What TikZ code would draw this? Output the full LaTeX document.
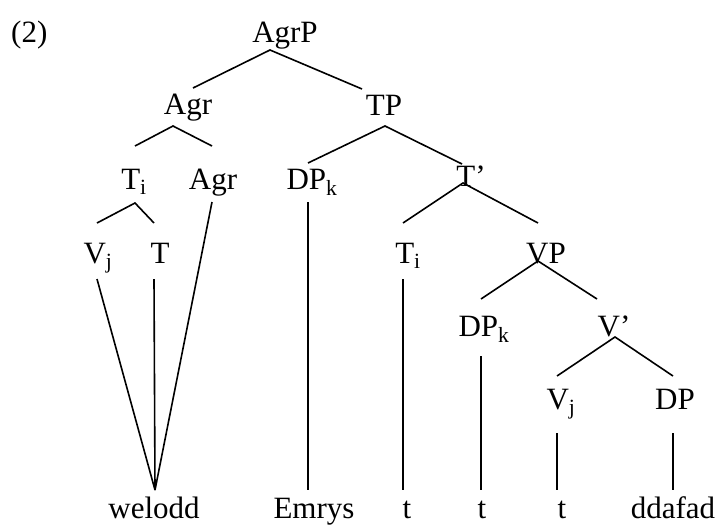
\documentclass[tikz,border=0pt]{standalone}
\usepackage{fontspec}
\setmainfont{Liberation Serif}
\begin{document}
\begin{tikzpicture}[x=1pt,y=-1pt,
  lab/.style={anchor=base,inner sep=0pt,font=\fontsize{31}{32}\selectfont},
  br/.style={line width=1.6pt}]
\useasboundingbox (0,0) rectangle (720,525);
% labels
\node[lab,anchor=base west] (ex) at (11,42) {(2)};
\node[lab] (agrp) at (285,42) {AgrP};
\node[lab] (agr1) at (188,114) {Agr};
\node[lab] (tp) at (384,115) {TP};
\node[lab] (ti1) at (134,189) {T\textsubscript{i}};
\node[lab] (agr2) at (213,189) {Agr};
\node[lab] (dpk1) at (312,189) {DP\textsubscript{k}};
\node[lab] (tbar) at (471,186) {T’};
\node[lab] (vj1) at (98,263) {V\textsubscript{j}};
\node[lab] (t1) at (160,263) {T};
\node[lab] (ti2) at (408,263) {T\textsubscript{i}};
\node[lab] (vp) at (546,263) {VP};
\node[lab] (dpk2) at (484,336) {DP\textsubscript{k}};
\node[lab] (vbar) at (614,336) {V’};
\node[lab] (vj2) at (561,409) {V\textsubscript{j}};
\node[lab] (dp) at (675,409) {DP};
\node[lab] (welodd) at (154,518) {welodd};
\node[lab] (emrys) at (314,518) {Emrys};
\node[lab] (tr1) at (407,518) {t};
\node[lab] (tr2) at (482,518) {t};
\node[lab] (tr3) at (562,518) {t};
\node[lab] (ddafad) at (673,518) {ddafad};
% attachment points
\coordinate (agrp-d) at (270,50);
\coordinate (agr1-u) at (193,88);
\coordinate (tp-u) at (362,89);
\coordinate (agr1-d) at (173,126);
\coordinate (ti1-u) at (135,146);
\coordinate (agr2-u) at (212,146);
\coordinate (tp-d) at (385,126);
\coordinate (dpk1-u) at (308,163);
\coordinate (tbar-u) at (462,164);
\coordinate (ti1-d) at (135,203);
\coordinate (vj1-u) at (97,223);
\coordinate (t1-u) at (154,223);
\coordinate (agr2-d) at (212,202);
\coordinate (dpk1-d) at (308,202);
\coordinate (tbar-d) at (463,183);
\coordinate (ti2-u) at (403,223);
\coordinate (vp-u) at (538,223);
\coordinate (vj1-d) at (97,279);
\coordinate (t1-d) at (154,279);
\coordinate (ti2-d) at (403,279);
\coordinate (vp-d) at (538,261);
\coordinate (dpk2-u) at (481,299);
\coordinate (vbar-u) at (597,299);
\coordinate (dpk2-d) at (481,356);
\coordinate (vbar-d) at (615,337);
\coordinate (vj2-u) at (557,376);
\coordinate (dp-u) at (673,376);
\coordinate (vj2-d) at (557,433);
\coordinate (dp-d) at (673,433);
\coordinate (welodd-u) at (155,490);
\coordinate (emrys-u) at (308,490);
\coordinate (tr1-u) at (403,490);
\coordinate (tr2-u) at (481,490);
\coordinate (tr3-u) at (557,490);
\coordinate (ddafad-u) at (673,490);
% branches
\draw[br] (agr1-u) -- (agrp-d) -- (tp-u);
\draw[br] (ti1-u) -- (agr1-d) -- (agr2-u);
\draw[br] (dpk1-u) -- (tp-d) -- (tbar-u);
\draw[br] (vj1-u) -- (ti1-d) -- (t1-u);
\draw[br] (ti2-u) -- (tbar-d) -- (vp-u);
\draw[br] (dpk2-u) -- (vp-d) -- (vbar-u);
\draw[br] (vj2-u) -- (vbar-d) -- (dp-u);
\draw[br] (agr2-d) -- (welodd-u);
\draw[br] (vj1-d) -- (welodd-u);
\draw[br] (t1-d) -- (welodd-u);
\draw[br] (dpk1-d) -- (emrys-u);
\draw[br] (ti2-d) -- (tr1-u);
\draw[br] (dpk2-d) -- (tr2-u);
\draw[br] (vj2-d) -- (tr3-u);
\draw[br] (dp-d) -- (ddafad-u);
\end{tikzpicture}
\end{document}
